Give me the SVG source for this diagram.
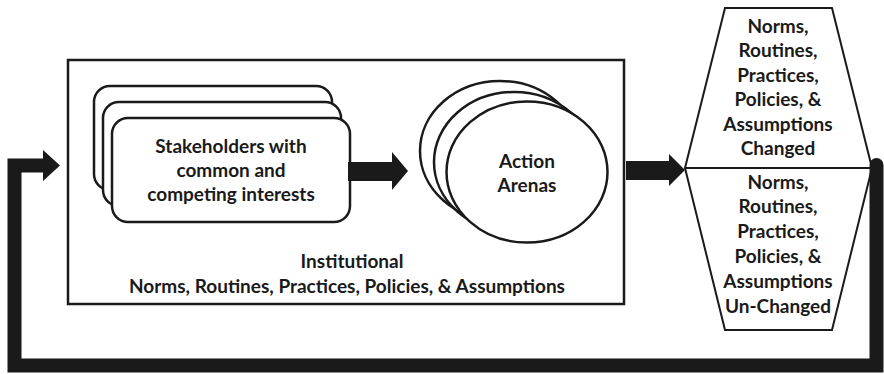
<svg xmlns="http://www.w3.org/2000/svg" width="884" height="374" viewBox="0 0 884 374">
  <style>
    .shape { fill: #fff; stroke: #1a1a1a; stroke-width: 2.5; }
    .thin { fill: #fff; stroke: #1a1a1a; stroke-width: 2; }
    .lbl { font-family: Lato, "Open Sans", "Liberation Sans", sans-serif; font-weight: bold; font-size: 19px; fill: #1a1a1a; text-anchor: middle; }
    .arrow { fill: #1a1a1a; }
    .loop { fill: none; stroke: #1a1a1a; stroke-width: 14; stroke-linejoin: miter; stroke-linecap: round; }
  </style>
  <rect width="884" height="374" fill="#fff"/>

  <!-- institutional frame -->
  <g id="institution">
    <rect class="shape" x="68" y="60" width="556" height="244"/>
    <text class="lbl" x="352" y="268">Institutional</text>
    <text class="lbl" x="347" y="293">Norms, Routines, Practices, Policies, &amp; Assumptions</text>
  </g>

  <!-- stacked stakeholder cards -->
  <g id="stakeholders">
    <rect class="shape" x="94" y="86" width="238" height="104" rx="16"/>
    <rect class="shape" x="103" y="102" width="238" height="104" rx="16"/>
    <rect class="shape" x="112" y="118" width="238" height="104" rx="16"/>
    <text class="lbl" x="231" y="153">Stakeholders with</text>
    <text class="lbl" x="231" y="177">common and</text>
    <text class="lbl" x="231" y="201">competing interests</text>
  </g>

  <!-- stacked action arenas -->
  <g id="arenas">
    <ellipse class="shape" cx="500" cy="151" rx="80" ry="70"/>
    <ellipse class="shape" cx="514" cy="162" rx="80" ry="70"/>
    <ellipse class="shape" cx="527" cy="172" rx="80.5" ry="70.5"/>
    <text class="lbl" x="527" y="168">Action</text>
    <text class="lbl" x="527" y="192">Arenas</text>
  </g>

  <!-- outcome hexagon -->
  <g id="outcomes">
    <polygon class="thin" points="725,8 832,8 872,168 832,330 725,330 685,168"/>
    <line x1="685" y1="168" x2="872" y2="168" stroke="#1a1a1a" stroke-width="2"/>
    <text class="lbl" x="778" y="33">Norms,</text>
    <text class="lbl" x="778" y="57">Routines,</text>
    <text class="lbl" x="778" y="82">Practices,</text>
    <text class="lbl" x="778" y="106">Policies, &amp;</text>
    <text class="lbl" x="778" y="131">Assumptions</text>
    <text class="lbl" x="778" y="155">Changed</text>
    <text class="lbl" x="778" y="189">Norms,</text>
    <text class="lbl" x="778" y="213">Routines,</text>
    <text class="lbl" x="778" y="238">Practices,</text>
    <text class="lbl" x="778" y="263">Policies, &amp;</text>
    <text class="lbl" x="778" y="288">Assumptions</text>
    <text class="lbl" x="778" y="313">Un-Changed</text>
  </g>

  <!-- connectors -->
  <g id="connectors">
    <polygon class="arrow" points="348,162 392,162 392,152 408,171 392,190 392,181 348,181"/>
    <polygon class="arrow" points="626,161 669,161 669,154 685,170 669,186 669,180 626,180"/>
    <path class="loop" d="M876.5,165 V365.5 H14.5 V165.5 H46"/>
    <polygon class="arrow" points="43,150 60,165.5 43,181"/>
  </g>
</svg>
